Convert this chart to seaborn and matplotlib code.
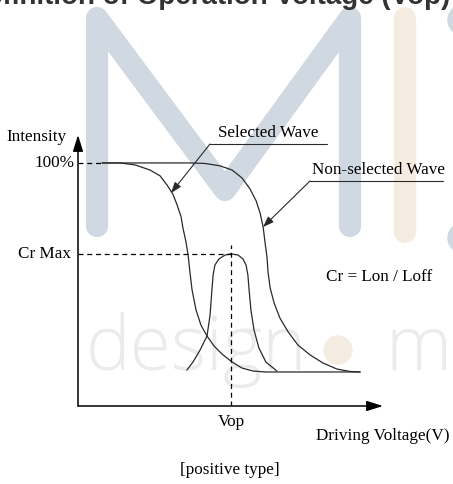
import seaborn as sns
import matplotlib.pyplot as plt

# readings: driving voltage (arb. units, Vop = 5) vs intensity (%)
sel_v = [0.79, 1.38, 1.87, 2.36, 2.69, 2.92, 3.11, 3.25, 3.38, 3.44, 3.54, 3.61,
         3.67, 3.74, 3.87, 4.03, 4.23, 4.46, 4.72, 5.05, 5.38, 5.74, 6.13, 9.25]
sel_i = [100.0, 100.0, 99.2, 97.1, 94.7, 90.9, 87.2, 82.7, 77.8, 73.3, 67.5, 62.1,
         55.1, 47.7, 39.5, 33.3, 28.8, 24.7, 21.4, 18.1, 15.6, 14.4, 14.0, 14.0]

non_v = [0.79, 3.67, 4.16, 4.66, 5.05, 5.38, 5.64, 5.84, 5.97, 6.07, 6.13, 6.20,
         6.23, 6.30, 6.43, 6.62, 6.89, 7.21, 7.61, 8.03, 8.49, 8.92, 9.25]
non_i = [100.0, 100.0, 99.8, 98.8, 97.1, 93.8, 89.3, 84.4, 79.4, 73.7, 67.5, 60.9,
         55.1, 48.6, 42.4, 36.2, 30.5, 25.1, 21.0, 17.7, 15.2, 14.2, 14.0]

cr_v = [3.57, 3.77, 4.00, 4.23, 4.33, 4.39, 4.43, 4.49, 4.62, 4.82, 5.02, 5.25,
        5.41, 5.51, 5.57, 5.61, 5.67, 5.77, 5.93, 6.16, 6.52]
cr_i = [14.8, 18.1, 23.0, 28.8, 37.4, 47.7, 53.9, 58.0, 60.5, 62.1, 62.6, 62.1,
        60.5, 58.0, 53.9, 47.7, 39.5, 31.3, 23.9, 18.1, 14.4]

cr_max = 62.6
vop = 5.0
vop_top = 66.3
v_end = 10.0
i_end = 111.5

title = 'Definition of Operation Voltage (Vop)'

sns.set_theme(style='white')
plt.rcParams['font.family'] = ['Liberation Serif', 'DejaVu Serif']

W, H = 453, 484
fig = plt.figure(figsize=(W / 100, H / 100), dpi=100)

# background layer in pixel coordinates (watermark, labels, leaders)
bg = fig.add_axes([0, 0, 1, 1])
bg.set_xlim(0, W)
bg.set_ylim(H, 0)
bg.axis('off')

blue = '#d0d9e1'
beige = '#f4ece0'
mark_font = ['Open Sans', 'DejaVu Sans']
bg.plot([97, 97, 225, 350, 350], [226, 18, 190, 18, 226], color=blue, lw=16,
        solid_capstyle='round', solid_joinstyle='round', zorder=0)
bg.plot([405, 405], [18, 232], color=beige, lw=16, solid_capstyle='round', zorder=0)
bg.add_patch(plt.Circle((463, 20), 15, color=blue, zorder=0))
bg.add_patch(plt.Circle((463, 238), 15, color=blue, zorder=0))
bg.text(86, 370, 'design', fontsize=54, color='#ebebeb', family=mark_font,
        fontweight='light', va='baseline', zorder=0)
bg.add_patch(plt.Circle((338, 350), 14, color=beige, zorder=0))
bg.text(385, 370, 'ma', fontsize=54, color='#ebebeb', family=mark_font,
        fontweight='light', va='baseline', zorder=0, clip_on=True)

bg.text(450, 4, title, fontsize=20, fontweight='bold', color='#333333',
        family=['Liberation Sans', 'DejaVu Sans'], ha='right', va='baseline')

ink = '#2a2a2a'
fs = 12.3
bg.text(67, 137, 'Intensity', fontsize=fs, ha='right', va='center', color='black')
bg.text(75, 163, '100%', fontsize=fs, ha='right', va='center', color='black')
bg.text(71, 254, 'Cr Max', fontsize=fs, ha='right', va='center', color='black')
bg.text(231, 422, 'Vop', fontsize=fs, ha='center', va='center', color='black')
bg.text(316, 436, 'Driving Voltage(V)', fontsize=fs, ha='left', va='center', color='black')
bg.text(230, 470, '[positive type]', fontsize=fs, ha='center', va='center', color='black')
bg.text(326, 277, 'Cr = Lon / Loff', fontsize=fs, ha='left', va='center', color='black')
bg.text(218, 133, 'Selected Wave', fontsize=fs, ha='left', va='center', color='black')
bg.text(312, 170, 'Non-selected Wave', fontsize=fs, ha='left', va='center', color='black')

head = '-|>,head_length=0.5,head_width=0.18'
bg.plot([210, 327], [144, 144], color=ink, lw=0.8)
bg.annotate('', xy=(171, 193), xytext=(210, 144),
            arrowprops=dict(arrowstyle=head, color=ink, lw=0.8, mutation_scale=13,
                            shrinkA=0, shrinkB=0))
bg.plot([310, 443], [181, 181], color=ink, lw=0.8)
bg.annotate('', xy=(263, 227), xytext=(310, 181),
            arrowprops=dict(arrowstyle=head, color=ink, lw=0.8, mutation_scale=13,
                            shrinkA=0, shrinkB=0))

# diagram axes
ax = fig.add_axes([78 / W, (H - 406) / H, (383 - 78) / W, (406 - 135) / H])
ax.patch.set_alpha(0)
ax.set_xlim(0, v_end)
ax.set_ylim(0, i_end)
ax.axis('off')

for v, i in [(sel_v, sel_i), (non_v, non_i), (cr_v, cr_i)]:
    sns.lineplot(x=v, y=i, ax=ax, color=ink, linewidth=0.9, sort=False, estimator=None)

dash = (0, (4, 3))
ax.plot([0, sel_v[0]], [100, 100], color='black', lw=0.9, ls=dash)
ax.plot([0, vop], [cr_max, cr_max], color='black', lw=0.9, ls=dash)
ax.plot([vop, vop], [0, vop_top], color='black', lw=0.9, ls=dash)

axis_head = '-|>,head_length=0.7,head_width=0.22'
for end in [(1, 0), (0, 1)]:
    ax.annotate('', xy=end, xytext=(0, 0), xycoords='axes fraction',
                arrowprops=dict(arrowstyle=axis_head, color='black', lw=1.1,
                                mutation_scale=14, shrinkA=0, shrinkB=0),
                annotation_clip=False)

fig.savefig('out.png', dpi=100)
